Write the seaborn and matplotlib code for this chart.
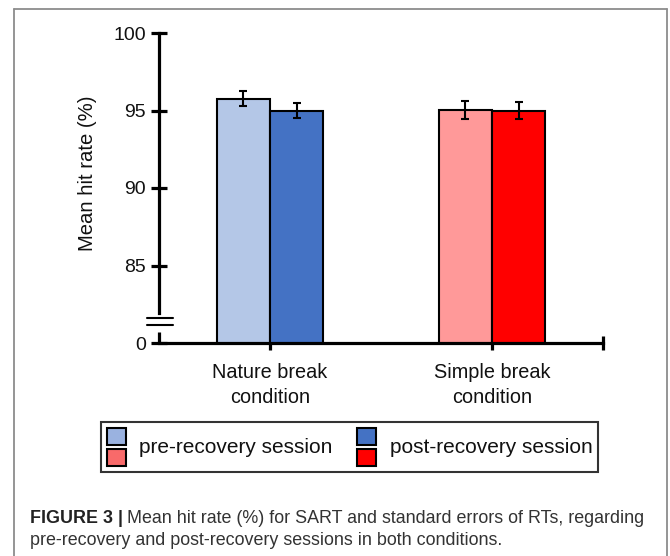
import matplotlib
matplotlib.use("Agg")
import matplotlib.pyplot as plt
from matplotlib.patches import Rectangle
from matplotlib.lines import Line2D
import seaborn as sns
import pandas as pd

# ---------------- data ----------------
conditions = ["Nature break\ncondition", "Simple break\ncondition"]
sessions = ["pre-recovery session", "post-recovery session"]
nature_means = [95.75, 95.0]      # pre, post
simple_means = [95.05, 95.0]      # pre, post
nature_sem = [0.48, 0.48]
simple_sem = [0.58, 0.52]
ytick_values = [80, 85, 90, 95, 100]
ytick_labels = ["0", "85", "90", "95", "100"]
ylabel = "Mean hit rate (%)"
caption_bold = "FIGURE 3 |"
caption_line1 = "Mean hit rate (%) for SART and standard errors of RTs, regarding"
caption_line2 = "pre-recovery and post-recovery sessions in both conditions."

# bar colours left-to-right: nature pre, nature post, simple pre, simple post
bar_colors = ["#b4c7e7", "#4472c4", "#ff9999", "#ff0000"]
legend_colors = [("#9ab2e0", "#f86a6a"), ("#4472c4", "#ff0000")]

df = pd.DataFrame({
    "condition": [conditions[0]] * 2 + [conditions[1]] * 2,
    "session": sessions * 2,
    "value": nature_means + simple_means,
})
errs = nature_sem + simple_sem

# ---------------- style ----------------
sns.set_theme(style="white")
plt.rcParams["font.family"] = ["Liberation Sans", "DejaVu Sans"]

W, H = 670, 556
fig = plt.figure(figsize=(W / 100, H / 100), dpi=100)
ax = fig.add_axes([159 / W, (H - 343) / H, 444 / W, 310 / H])

sns.barplot(data=df, x="condition", y="value", hue="session",
            hue_order=sessions, order=conditions, width=0.48,
            edgecolor="black", linewidth=1.5, legend=False, ax=ax)

bars = sorted([p for p in ax.patches if isinstance(p, Rectangle)],
              key=lambda p: p.get_x())
centers = []
for p, c in zip(bars, bar_colors):
    p.set_facecolor(c)
    p.set_edgecolor("black")
    p.set_linewidth(1.5)
    centers.append(p.get_x() + p.get_width() / 2)

ax.errorbar(centers, df["value"].tolist(), yerr=errs, fmt="none",
            ecolor="black", elinewidth=1.5, capsize=2.6, capthick=1.5,
            zorder=5)

ax.set_ylim(80, 100)
ax.set_xlim(-0.5, 1.5)
ax.set_yticks(ytick_values)
ax.set_yticklabels(ytick_labels)
ax.set_xticks([0, 1, 1.5])
ax.set_xticklabels(conditions + [""], linespacing=1.4)
ax.set_xlabel("")
ax.set_ylabel(ylabel, fontsize=14.6, color="#111111")
ax.yaxis.set_label_coords(-0.140, 0.548)

for s in ["top", "right"]:
    ax.spines[s].set_visible(False)
for s in ["left", "bottom"]:
    ax.spines[s].set_linewidth(2.3)
    ax.spines[s].set_color("black")
ax.spines["left"].set_bounds(81.95, 100)

ax.tick_params(axis="y", direction="inout", length=11.5, width=2.3,
               labelsize=14, pad=3.6, colors="black", labelcolor="#111111", left=True)
ax.tick_params(axis="x", direction="inout", length=10, width=2.3,
               labelsize=14.3, pad=9.5, colors="black", labelcolor="#111111", bottom=True)

# lower piece of the broken axis and break marks
yx = ax.get_yaxis_transform()
ax.add_line(Line2D([0, 0], [80, 80.7], transform=yx, color="black",
                   lw=2.3, clip_on=False, solid_capstyle="butt"))
for yb in [81.6, 81.16]:
    ax.add_line(Line2D([-0.027, 0.031], [yb, yb], transform=yx, color="black",
                       lw=1.5, clip_on=False))

# ---------------- legend ----------------
class StackedHandler:
    def legend_artist(self, legend, orig_handle, fontsize, handlebox):
        x0, y0 = -handlebox.xdescent, -handlebox.ydescent
        w, h = handlebox.width, handlebox.height
        top, bottom = orig_handle
        tr = handlebox.get_transform()
        r1 = Rectangle((x0, y0 + 0.55 * h), w, 0.45 * h, facecolor=top,
                       edgecolor="black", lw=1.5, transform=tr)
        r2 = Rectangle((x0, y0), w, 0.46 * h, facecolor=bottom,
                       edgecolor="black", lw=1.5, transform=tr)
        handlebox.add_artist(r1)
        handlebox.add_artist(r2)
        return r1

leg = fig.legend(legend_colors, sessions, handler_map={tuple: StackedHandler()},
                 loc="center", bbox_to_anchor=((97 + 602) / 2 / W, 1 - 447 / H),
                 ncol=2, fontsize=15, frameon=True, fancybox=False,
                 handlelength=0.91, handleheight=2.5, handletextpad=0.67,
                 columnspacing=1.15, borderpad=0.25, borderaxespad=0)
leg.get_frame().set_edgecolor("black")
leg.get_frame().set_linewidth(1.5)
for t in leg.get_texts():
    t.set_color("#111111")

# ---------------- outer panel frame ----------------
fc = "#8c8c8c"
xl, xr, yt = 14 / W, 667 / W, 1 - 9 / H
fig.add_artist(Line2D([xl, xl], [0, yt], transform=fig.transFigure, color=fc, lw=1.3))
fig.add_artist(Line2D([xr, xr], [0, yt], transform=fig.transFigure, color=fc, lw=1.3))
fig.add_artist(Line2D([xl, xr], [yt, yt], transform=fig.transFigure, color=fc, lw=1.3))

# ---------------- caption ----------------
cap_fs = 12.9
t1 = fig.text(30 / W, 1 - 523 / H, caption_bold, fontsize=cap_fs, fontweight="bold",
              color="#222222", va="baseline", ha="left")
ax.annotate(caption_line1, xy=(1, 0), xycoords=t1, xytext=(3, 0),
            textcoords="offset points", fontsize=cap_fs, color="#333333",
            va="bottom", ha="left", annotation_clip=False)
fig.text(30 / W, 1 - 545 / H, caption_line2, fontsize=cap_fs, color="#333333",
         va="baseline", ha="left")

fig.savefig("out.png", dpi=100)
